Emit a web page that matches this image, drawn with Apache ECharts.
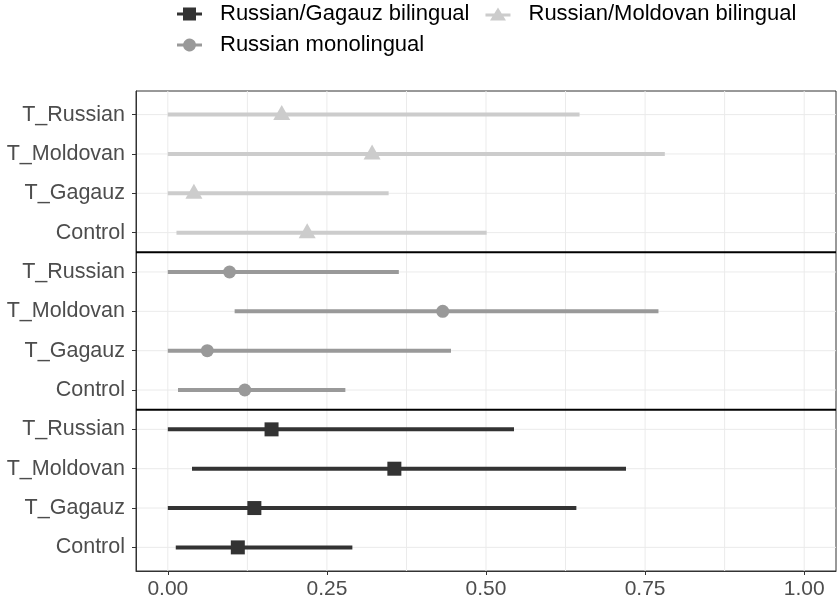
<!DOCTYPE html>
<html>
<head>
<meta charset="utf-8">
<script src="https://cdn.jsdelivr.net/npm/echarts@6/dist/echarts.min.js"></script>
<style>html,body{margin:0;padding:0;background:#fff;}#c{width:838px;height:603px;}</style>
</head>
<body>
<div id="c"></div>
<script>
// Categories within each group (bottom to top)
const categories = ['Control', 'T_Gagauz', 'T_Moldovan', 'T_Russian'];
const groups = ['Russian/Gagauz bilingual', 'Russian monolingual', 'Russian/Moldovan bilingual'];
const xTicks = [0, 0.25, 0.5, 0.75, 1.0];
const xMinorGrid = [0.125, 0.375, 0.625, 0.875];

// Russian/Gagauz bilingual (order: Control, T_Gagauz, T_Moldovan, T_Russian)
const gagauzPt = [0.110, 0.136, 0.356, 0.163];
const gagauzLo = [0.0125, 0.0, 0.038, 0.0];
const gagauzHi = [0.290, 0.642, 0.720, 0.544];
// Russian monolingual
const monoPt = [0.121, 0.062, 0.432, 0.097];
const monoLo = [0.016, 0.0, 0.105, 0.0];
const monoHi = [0.279, 0.445, 0.771, 0.363];
// Russian/Moldovan bilingual
const moldPt = [0.219, 0.041, 0.321, 0.179];
const moldLo = [0.0136, 0.0, 0.0, 0.0];
const moldHi = [0.501, 0.347, 0.781, 0.647];

const colors = ['#333333', '#999999', '#cccccc'];
const pts = [gagauzPt, monoPt, moldPt];
const los = [gagauzLo, monoLo, moldLo];
const his = [gagauzHi, monoHi, moldHi];
const symbols = ['rect', 'circle', 'triangle'];
const symbolSizes = [14, 13, [17, 15]];
const symbolOffsets = [[0, 0], [0, 0], [0, -2]];
const yTicks = [];
for (let i = 1; i <= 12; i++) yTicks.push(i);
const dividers = [4.5, 8.5];

const icons = {
  'Russian/Gagauz bilingual': 'path://M0,5H6V0H19V5H25V8H19V13H6V8H0Z',
  'Russian monolingual': 'path://M0,5H6.2A6.5,6.5 0 0 1 18.8,5H25V8H18.8A6.5,6.5 0 0 1 6.2,8H0Z',
  'Russian/Moldovan bilingual': 'path://M0,6H8.8L12.5,0L16.2,6H25V9H18.04L20.5,13H4.5L6.96,9H0Z'
};

const series = [];
// grid lines
series.push({
  type: 'custom', silent: true, z: 0,
  data: xTicks.concat(xMinorGrid).map(v => [v]),
  renderItem: (params, api) => {
    const a = api.coord([api.value(0), 0.4]);
    const b = api.coord([api.value(0), 12.6]);
    return { type: 'line', shape: { x1: a[0], y1: a[1], x2: b[0], y2: b[1] }, style: { stroke: '#ebebeb', lineWidth: 1 } };
  }
});
series.push({
  type: 'custom', silent: true, z: 0,
  data: yTicks.map(v => [0, v]),
  encode: { x: 0, y: 1 },
  renderItem: (params, api) => {
    const a = api.coord([-0.05, api.value(1)]);
    const b = api.coord([1.05, api.value(1)]);
    return { type: 'line', shape: { x1: a[0], y1: a[1], x2: b[0], y2: b[1] }, style: { stroke: '#ebebeb', lineWidth: 1 } };
  }
});
series.push({
  type: 'custom', silent: true, z: 5,
  data: dividers.map(v => [0, v]),
  encode: { x: 0, y: 1 },
  renderItem: (params, api) => {
    const a = api.coord([-0.05, api.value(1)]);
    const b = api.coord([1.05, api.value(1)]);
    return { type: 'line', shape: { x1: a[0], y1: a[1], x2: b[0], y2: b[1] }, style: { stroke: '#000000', lineWidth: 2 } };
  }
});

groups.forEach((g, gi) => {
  const rangeData = categories.map((c, ci) => [los[gi][ci], his[gi][ci], gi * 4 + ci + 1]);
  const ptData = categories.map((c, ci) => [pts[gi][ci], gi * 4 + ci + 1]);
  series.push({
    name: g, type: 'custom', z: 3,
    itemStyle: { color: colors[gi] },
    data: rangeData,
    encode: { x: [0, 1], y: 2 },
    renderItem: (params, api) => {
      const a = api.coord([api.value(0), api.value(2)]);
      const b = api.coord([api.value(1), api.value(2)]);
      return { type: 'line', shape: { x1: a[0], y1: a[1], x2: b[0], y2: b[1] }, style: { stroke: colors[gi], lineWidth: 4 } };
    }
  });
  series.push({
    name: g, type: 'scatter', z: 4,
    symbol: symbols[gi], symbolSize: symbolSizes[gi], symbolOffset: symbolOffsets[gi],
    itemStyle: { color: colors[gi], opacity: 1 },
    data: ptData
  });
});

const legendText = { color: '#000000', fontSize: 22, fontFamily: 'Liberation Sans, Arial, sans-serif', padding: [0, 0, 0, 13], lineHeight: 22 };
const chart = echarts.init(document.getElementById('c'), null, { renderer: 'canvas' });
chart.setOption({
  animation: false,
  backgroundColor: '#ffffff',
  legend: [
    {
      left: 177, top: 3, padding: 0, itemGap: 16, itemWidth: 25, itemHeight: 13,
      selectedMode: false,
      data: [groups[0], groups[2]].map(n => ({ name: n, icon: icons[n] })),
      textStyle: legendText
    },
    {
      left: 177, top: 34, padding: 0, itemWidth: 25, itemHeight: 13,
      selectedMode: false,
      data: [groups[1]].map(n => ({ name: n, icon: icons[n] })),
      textStyle: legendText
    }
  ],
  grid: { left: 136, right: 2, top: 91, bottom: 32, show: true, borderColor: '#333333', borderWidth: 1, containLabel: false },
  xAxis: {
    type: 'value', min: -0.05, max: 1.05,
    splitLine: { show: false },
    axisLine: { show: true, onZero: false, lineStyle: { color: '#333333', width: 1 } },
    axisTick: { show: true, length: 4, lineStyle: { color: '#333333' }, customValues: xTicks },
    axisLabel: { customValues: xTicks, color: '#4d4d4d', fontSize: 21, fontFamily: 'Liberation Sans, Arial, sans-serif', margin: 8, formatter: v => v.toFixed(2) }
  },
  yAxis: {
    type: 'value', min: 0.4, max: 12.6,
    splitLine: { show: false },
    axisLine: { show: true, onZero: false, lineStyle: { color: '#333333', width: 1 } },
    axisTick: { show: true, length: 4, lineStyle: { color: '#333333' }, customValues: yTicks },
    axisLabel: { customValues: yTicks, color: '#4d4d4d', fontSize: 21.5, fontFamily: 'Liberation Sans, Arial, sans-serif', margin: 11, formatter: v => categories[(Math.round(v) - 1) % 4] }
  },
  series: series
});
</script>
</body>
</html>
